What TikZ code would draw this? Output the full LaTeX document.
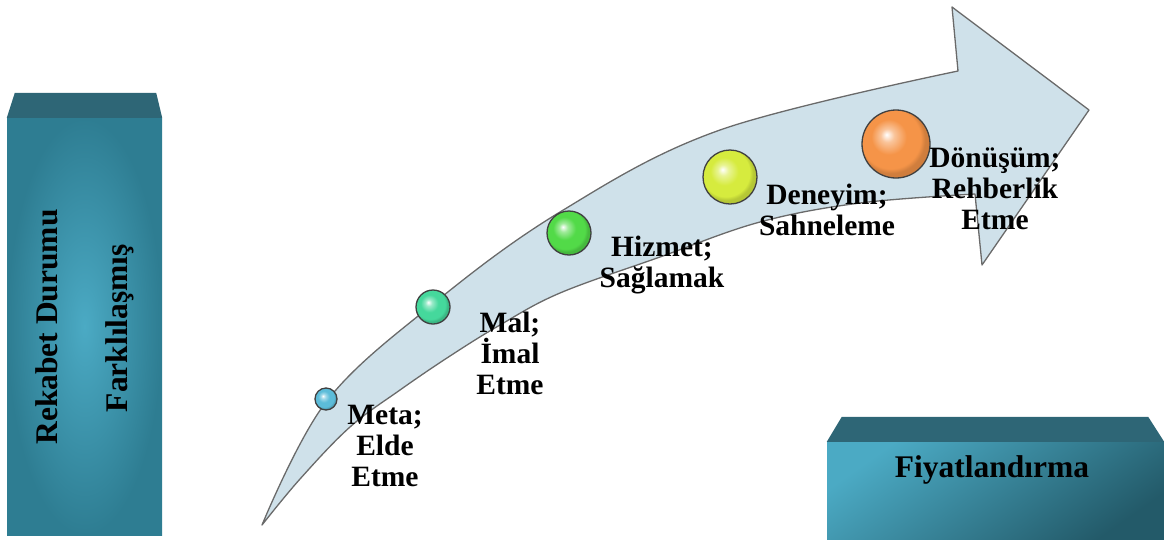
\documentclass[tikz,border=0pt]{standalone}
\usepackage{fontspec}
\setmainfont{Liberation Serif}
\usetikzlibrary{positioning,calc,shadings}

\definecolor{arrowfill}{HTML}{CFE1EA}
\definecolor{arrowedge}{HTML}{6A6A6A}
\definecolor{boxlight}{HTML}{4BAAC4}
\definecolor{boxdark}{HTML}{2E7D92}
\definecolor{boxdeep}{HTML}{235A69}
\definecolor{boxtop}{HTML}{2E6676}
\definecolor{metablue}{HTML}{5CBCD9}
\definecolor{malgreen}{HTML}{45D89C}
\definecolor{hizmetgreen}{HTML}{52DA48}
\definecolor{deneyimyellow}{HTML}{D6EB3E}
\definecolor{donusumorange}{HTML}{F59448}

% bright ball with a soft highlight, tinted by ballc
\colorlet{ballc}{white}
\pgfdeclareradialshading[ballc]{glossy}{\pgfpoint{-7bp}{7bp}}{%
  color(0bp)=(white); color(5bp)=(ballc!55!white); color(13bp)=(ballc);
  color(22bp)=(ballc); color(25bp)=(ballc!85!black); color(50bp)=(ballc!80!black)}

\begin{document}
\begin{tikzpicture}[x=1pt, y=-1pt, line join=round,
  stage/.style={circle, draw=black!75, line width=1.3pt, shading=glossy,
    /utils/exec={\colorlet{ballc}{#1}}, inner sep=0pt},
  lbl/.style={font=\bfseries\fontsize{29.5}{31}\selectfont, align=center, inner sep=0pt},
  boxlbl/.style={font=\bfseries\fontsize{31.5}{33}\selectfont, inner sep=0pt},
  frontface/.style={rectangle, inner sep=0pt, draw=none}]

\useasboundingbox (0,0) rectangle (1164,539);

% left column
\node[frontface, shading=radial, inner color=boxlight, outer color=boxdark,
      minimum width=155, minimum height=417] (rekabet) at (84.5,326.5) {};
\fill[boxtop] (rekabet.north west) -- ++(8,-25) -- ($(rekabet.north east)+(-6,-25)$)
  -- (rekabet.north east) -- cycle;
\node[boxlbl, rotate=90] (rekabetTxt) at (47,327) {Rekabet Durumu};
\node[boxlbl, rotate=90] (farkTxt) at (120,328) {Farklılaşmış};

% right block
\node[frontface, shade, top color=boxlight, bottom color=boxdeep, shading angle=35,
      minimum width=337, minimum height=98] (fiyat) at (995.5,491) {};
\fill[boxtop] (fiyat.north west) -- ++(15,-25) -- ($(fiyat.north east)+(-16,-25)$)
  -- (fiyat.north east) -- cycle;
\node[boxlbl] (fiyatTxt) at (992,470) {Fiyatlandırma};

% the bent arrow
\draw[draw=arrowedge, line width=1.3pt, fill=arrowfill]
  (262,525) -- plot[smooth, tension=0.6] coordinates {(262,525) (326,402)
    (433,304) (560,212) (720,130) (958,71)}
  -- (952,7) -- (1089,110) -- (982,265) -- (975,194)
  -- plot[smooth, tension=0.6] coordinates {(975,194) (860,203) (760,222) (660,257)
    (560,293) (500,325) (450,356) (400,390) (350,427) (300,479) (262,525)}
  -- cycle;

% stages along the arrow
\node[stage=metablue, minimum size=22] (meta) at (326,399) {};
\node[stage=malgreen, minimum size=34] (mal) at (433,307) {};
\node[stage=hizmetgreen, minimum size=44] (hizmet) at (569,233) {};
\node[stage=deneyimyellow, minimum size=54] (deneyim) at (730,177) {};
\node[stage=donusumorange, minimum size=68] (donusum) at (896,144) {};

\node[lbl] (metaTxt) at (385,446) {Meta;\\Elde\\Etme};
\node[lbl] (malTxt) at (510,353) {Mal;\\İmal\\Etme};
\node[lbl] (hizmetTxt) at (662,265) {Hizmet;\\Sağlamak};
\node[lbl] (deneyimTxt) at (827,210) {Deneyim;\\Sahneleme};
\node[lbl] (donusumTxt) at (995,189) {Dönüşüm;\\Rehberlik\\Etme};

\end{tikzpicture}
\end{document}
